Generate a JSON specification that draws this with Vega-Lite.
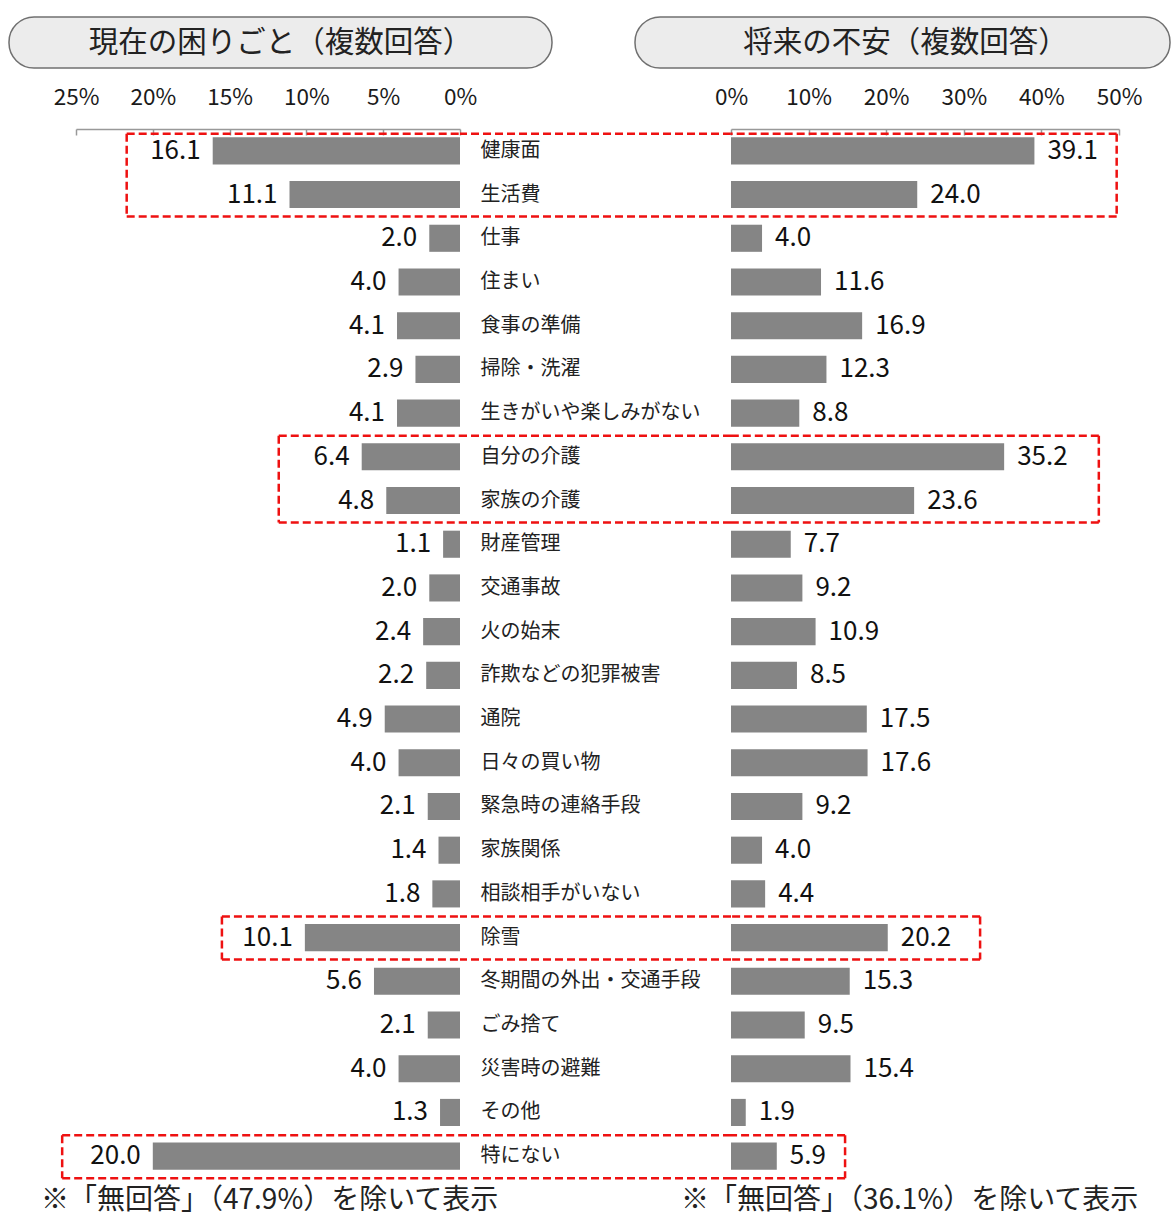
{
  "$schema": "https://vega.github.io/schema/vega-lite/v6.json",
  "padding": {"left": 8, "top": 16, "right": 0, "bottom": 0},
  "config": {"view": {"stroke": null}, "font": "Noto Sans CJK JP"},
  "datasets": {
    "items": [
      {"cat": "健康面", "now": 16.1, "future": 39.1},
      {"cat": "生活費", "now": 11.1, "future": 24.0},
      {"cat": "仕事", "now": 2.0, "future": 4.0},
      {"cat": "住まい", "now": 4.0, "future": 11.6},
      {"cat": "食事の準備", "now": 4.1, "future": 16.9},
      {"cat": "掃除・洗濯", "now": 2.9, "future": 12.3},
      {"cat": "生きがいや楽しみがない", "now": 4.1, "future": 8.8},
      {"cat": "自分の介護", "now": 6.4, "future": 35.2},
      {"cat": "家族の介護", "now": 4.8, "future": 23.6},
      {"cat": "財産管理", "now": 1.1, "future": 7.7},
      {"cat": "交通事故", "now": 2.0, "future": 9.2},
      {"cat": "火の始末", "now": 2.4, "future": 10.9},
      {"cat": "詐欺などの犯罪被害", "now": 2.2, "future": 8.5},
      {"cat": "通院", "now": 4.9, "future": 17.5},
      {"cat": "日々の買い物", "now": 4.0, "future": 17.6},
      {"cat": "緊急時の連絡手段", "now": 2.1, "future": 9.2},
      {"cat": "家族関係", "now": 1.4, "future": 4.0},
      {"cat": "相談相手がいない", "now": 1.8, "future": 4.4},
      {"cat": "除雪", "now": 10.1, "future": 20.2},
      {"cat": "冬期間の外出・交通手段", "now": 5.6, "future": 15.3},
      {"cat": "ごみ捨て", "now": 2.1, "future": 9.5},
      {"cat": "災害時の避難", "now": 4.0, "future": 15.4},
      {"cat": "その他", "now": 1.3, "future": 1.9},
      {"cat": "特にない", "now": 20.0, "future": 5.9}
    ],
    "boxes": [
      {"top": "健康面", "bottom": "生活費", "l": 21.7, "r": 49.7},
      {"top": "自分の介護", "bottom": "家族の介護", "l": 11.8, "r": 47.4},
      {"top": "除雪", "bottom": "除雪", "l": 15.5, "r": 32.1},
      {"top": "特にない", "bottom": "特にない", "l": 25.9, "r": 14.7}
    ]
  },
  "bounds": "flush",
  "spacing": 112,
  "vconcat": [
    {
      "bounds": "flush",
      "spacing": 83,
      "hconcat": [
        {
          "width": 543, "height": 51,
          "view": {"fill": "#ececec", "stroke": "#707070", "strokeWidth": 1.5, "cornerRadius": 25},
          "data": {"values": [{"t": "現在の困りごと（複数回答）"}]},
          "mark": {"type": "text", "fontSize": 29.5, "color": "#222", "dx": 0},
          "encoding": {"text": {"field": "t", "type": "nominal"}}
        },
        {
          "width": 535, "height": 51,
          "view": {"fill": "#ececec", "stroke": "#707070", "strokeWidth": 1.5, "cornerRadius": 25},
          "data": {"values": [{"t": "将来の不安（複数回答）"}]},
          "mark": {"type": "text", "fontSize": 29.5, "color": "#222", "dx": 3},
          "encoding": {"text": {"field": "t", "type": "nominal"}}
        }
      ]
    },
    {
      "bounds": "flush",
      "spacing": 0,
      "hconcat": [
        {
          "width": 67, "height": 1049,
          "data": {"values": [{"t": ""}]},
          "mark": {"type": "text"},
          "encoding": {"text": {"field": "t", "type": "nominal"}}
        },
        {
          "width": 384, "height": 1049,
          "title": {"text": "※「無回答」（47.9%）を除いて表示", "orient": "bottom", "anchor": "start", "frame": "group", "dx": -35, "offset": 8, "fontSize": 28, "fontWeight": "normal", "color": "#222"},
          "layer": [
            {
              "data": {"name": "items"},
              "mark": {"type": "bar", "color": "#858585", "height": {"band": 0.62}},
              "encoding": {
                "y": {"field": "cat", "type": "nominal", "scale": {"domain": ["健康面","生活費","仕事","住まい","食事の準備","掃除・洗濯","生きがいや楽しみがない","自分の介護","家族の介護","財産管理","交通事故","火の始末","詐欺などの犯罪被害","通院","日々の買い物","緊急時の連絡手段","家族関係","相談相手がいない","除雪","冬期間の外出・交通手段","ごみ捨て","災害時の避難","その他","特にない"], "paddingInner": 0, "paddingOuter": 0}, "axis": null},
                "x": {"field": "now", "type": "quantitative", "scale": {"domain": [0, 25], "reverse": true, "nice": false},
                  "axis": {"orient": "top", "values": [0, 5, 10, 15, 20, 25], "labelExpr": "datum.value + '%'", "labelFontSize": 22.5, "labelColor": "#1a1a1a", "labelPadding": 26, "tickSize": -6, "tickColor": "#999999", "tickWidth": 1.5, "domainColor": "#999999", "domainWidth": 1.5, "grid": false, "title": null, "labelFlush": false, "labelOverlap": false}}
              }
            },
            {
              "data": {"name": "items"},
              "mark": {"type": "text", "align": "right", "baseline": "middle", "dx": -12, "fontSize": 26, "color": "#111"},
              "encoding": {
                "y": {"field": "cat", "type": "nominal"},
                "x": {"field": "now", "type": "quantitative"},
                "text": {"field": "now", "type": "quantitative", "format": ".1f"}
              }
            },
            {
              "data": {"name": "boxes"},
              "mark": {"type": "rule", "color": "#ee1111", "strokeWidth": 2.5, "strokeDash": [8, 4], "yOffset": {"expr": "datum.top === '健康面' ? -17 : -21"}},
              "encoding": {
                "y": {"field": "top", "type": "nominal"},
                "x": {"field": "l", "type": "quantitative"},
                "x2": {"value": "width"}
              }
            },
            {
              "data": {"name": "boxes"},
              "mark": {"type": "rule", "color": "#ee1111", "strokeWidth": 2.5, "strokeDash": [8, 4], "yOffset": 22},
              "encoding": {
                "y": {"field": "bottom", "type": "nominal"},
                "x": {"field": "l", "type": "quantitative"},
                "x2": {"value": "width"}
              }
            },
            {
              "data": {"name": "boxes"},
              "mark": {"type": "rule", "color": "#ee1111", "strokeWidth": 2.5, "strokeDash": [8, 4], "yOffset": {"expr": "datum.top === '健康面' ? -17 : -21"}, "y2Offset": 22},
              "encoding": {
                "y": {"field": "top", "type": "nominal"},
                "y2": {"field": "bottom"},
                "x": {"field": "l", "type": "quantitative"}
              }
            }
          ]
        },
        {
          "width": 271, "height": 1049,
          "layer": [
            {
              "data": {"name": "items"},
              "mark": {"type": "point", "opacity": 0},
              "encoding": {
                "y": {"field": "cat", "type": "nominal", "scale": {"domain": ["健康面","生活費","仕事","住まい","食事の準備","掃除・洗濯","生きがいや楽しみがない","自分の介護","家族の介護","財産管理","交通事故","火の始末","詐欺などの犯罪被害","通院","日々の買い物","緊急時の連絡手段","家族関係","相談相手がいない","除雪","冬期間の外出・交通手段","ごみ捨て","災害時の避難","その他","特にない"], "paddingInner": 0, "paddingOuter": 0},
                  "axis": {"orient": "left", "domain": false, "ticks": false, "tickSize": 0, "labelAlign": "left", "labelBaseline": "middle", "labelPadding": -20, "labelFontSize": 20, "labelColor": "#222", "labelLimit": 0, "title": null}}
              }
            },
            {
              "data": {"name": "boxes"},
              "mark": {"type": "rule", "color": "#ee1111", "strokeWidth": 2.5, "strokeDash": [8, 4], "yOffset": {"expr": "datum.top === '健康面' ? -17 : -21"}},
              "encoding": {"y": {"field": "top", "type": "nominal"}}
            },
            {
              "data": {"name": "boxes"},
              "mark": {"type": "rule", "color": "#ee1111", "strokeWidth": 2.5, "strokeDash": [8, 4], "yOffset": 22},
              "encoding": {"y": {"field": "bottom", "type": "nominal"}}
            }
          ]
        },
        {
          "width": 388, "height": 1049,
          "title": {"text": "※「無回答」（36.1%）を除いて表示", "orient": "bottom", "anchor": "start", "frame": "group", "dx": -50, "offset": 8, "fontSize": 28, "fontWeight": "normal", "color": "#222"},
          "layer": [
            {
              "data": {"name": "items"},
              "mark": {"type": "bar", "color": "#858585", "height": {"band": 0.62}},
              "encoding": {
                "y": {"field": "cat", "type": "nominal", "scale": {"domain": ["健康面","生活費","仕事","住まい","食事の準備","掃除・洗濯","生きがいや楽しみがない","自分の介護","家族の介護","財産管理","交通事故","火の始末","詐欺などの犯罪被害","通院","日々の買い物","緊急時の連絡手段","家族関係","相談相手がいない","除雪","冬期間の外出・交通手段","ごみ捨て","災害時の避難","その他","特にない"], "paddingInner": 0, "paddingOuter": 0}, "axis": null},
                "x": {"field": "future", "type": "quantitative", "scale": {"domain": [0, 50], "nice": false},
                  "axis": {"orient": "top", "values": [0, 10, 20, 30, 40, 50], "labelExpr": "datum.value + '%'", "labelFontSize": 22.5, "labelColor": "#1a1a1a", "labelPadding": 26, "tickSize": -6, "tickColor": "#999999", "tickWidth": 1.5, "domainColor": "#999999", "domainWidth": 1.5, "grid": false, "title": null, "labelFlush": false, "labelOverlap": false}}
              }
            },
            {
              "data": {"name": "items"},
              "mark": {"type": "text", "align": "left", "baseline": "middle", "dx": 13, "fontSize": 26, "color": "#111"},
              "encoding": {
                "y": {"field": "cat", "type": "nominal"},
                "x": {"field": "future", "type": "quantitative"},
                "text": {"field": "future", "type": "quantitative", "format": ".1f"}
              }
            },
            {
              "data": {"name": "boxes"},
              "mark": {"type": "rule", "color": "#ee1111", "strokeWidth": 2.5, "strokeDash": [8, 4], "yOffset": {"expr": "datum.top === '健康面' ? -17 : -21"}},
              "encoding": {
                "y": {"field": "top", "type": "nominal"},
                "x": {"field": "r", "type": "quantitative"},
                "x2": {"value": 0}
              }
            },
            {
              "data": {"name": "boxes"},
              "mark": {"type": "rule", "color": "#ee1111", "strokeWidth": 2.5, "strokeDash": [8, 4], "yOffset": 22},
              "encoding": {
                "y": {"field": "bottom", "type": "nominal"},
                "x": {"field": "r", "type": "quantitative"},
                "x2": {"value": 0}
              }
            },
            {
              "data": {"name": "boxes"},
              "mark": {"type": "rule", "color": "#ee1111", "strokeWidth": 2.5, "strokeDash": [8, 4], "yOffset": {"expr": "datum.top === '健康面' ? -17 : -21"}, "y2Offset": 22},
              "encoding": {
                "y": {"field": "top", "type": "nominal"},
                "y2": {"field": "bottom"},
                "x": {"field": "r", "type": "quantitative"}
              }
            }
          ]
        }
      ]
    }
  ]
}
